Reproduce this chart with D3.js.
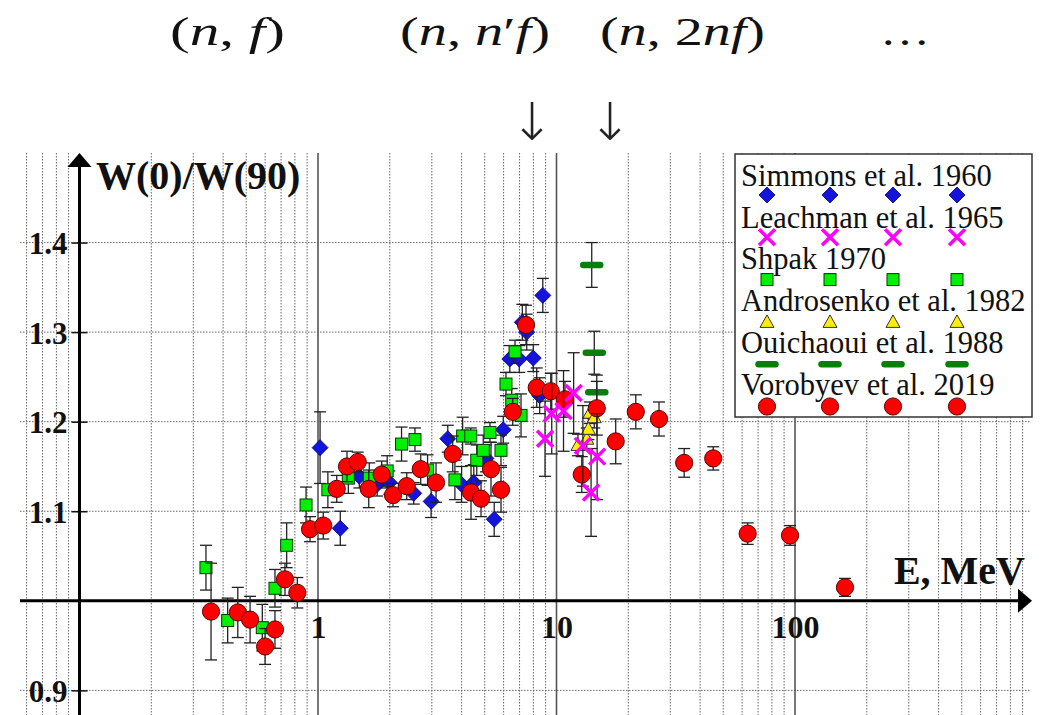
<!DOCTYPE html>
<html>
<head>
<meta charset="utf-8">
<script src="https://cdn.jsdelivr.net/npm/d3@7"></script>
<style>
  body { margin: 0; background: #fff; }
  svg { display: block; }
</style>
</head>
<body>
<svg id="chart"></svg>
<script>
// each point: [E (MeV), W(0)/W(90), error]
const simmons = [
  [1.02, 1.171, 0.040], [1.24, 1.081, 0.019], [1.49, 1.139, 0.013], [1.77, 1.130, 0.013],
  [1.99, 1.132, 0.013], [2.52, 1.120, 0.012], [2.98, 1.111, 0.018], [3.50, 1.181, 0.015],
  [4.00, 1.130, 0.020], [4.50, 1.132, 0.020], [5.06, 1.159, 0.015], [5.48, 1.091, 0.019],
  [5.98, 1.191, 0.015], [6.37, 1.270, 0.015], [6.98, 1.270, 0.015], [7.19, 1.311, 0.020],
  [7.50, 1.300, 0.020], [7.99, 1.271, 0.015], [8.50, 1.229, 0.020], [8.76, 1.341, 0.019]
];
const leachman = [
  [8.95, 1.181, 0.042], [9.55, 1.209, 0.045], [10.7, 1.212, 0.045], [11.8, 1.232, 0.045],
  [12.9, 1.173, 0.045], [13.96, 1.121, 0.049], [14.8, 1.161, 0.048]
];
const shpak = [
  [0.339, 1.037, 0.025], [0.418, 0.978, 0.025], [0.584, 0.970, 0.026], [0.660, 1.014, 0.021],
  [0.739, 1.062, 0.025], [0.891, 1.107, 0.020], [1.10, 1.124, 0.020], [1.34, 1.137, 0.017],
  [1.64, 1.137, 0.017], [1.95, 1.145, 0.017], [2.24, 1.175, 0.019], [2.55, 1.180, 0.013],
  [2.88, 1.146, 0.017], [3.75, 1.135, 0.022], [4.04, 1.184, 0.021], [4.37, 1.184, 0.009],
  [4.63, 1.157, 0.017], [4.93, 1.168, 0.017], [5.26, 1.188, 0.011], [5.85, 1.168, 0.017],
  [6.14, 1.242, 0.013], [6.49, 1.224, 0.013], [6.70, 1.278, 0.013], [7.10, 1.207, 0.024]
];
const androsenko = [
  [12.3, 1.174, 0.012], [13.4, 1.181, 0.012], [13.6, 1.192, 0.012], [13.8, 1.210, 0.012],
  [14.4, 1.205, 0.012]
];
const ouichaoui = [
  [14.05, 1.375, 0.025], [14.4, 1.277, 0.024], [14.75, 1.233, 0.019]
];
const vorobyev = [
  [0.356, 0.988, 0.054], [0.461, 0.987, 0.028], [0.519, 0.979, 0.026], [0.600, 0.949, 0.020],
  [0.660, 0.968, 0.021], [0.727, 1.024, 0.018], [0.819, 1.009, 0.017], [0.926, 1.080, 0.014],
  [1.052, 1.084, 0.015], [1.198, 1.125, 0.015], [1.323, 1.150, 0.017], [1.467, 1.155, 0.011],
  [1.632, 1.125, 0.021], [1.849, 1.141, 0.015], [2.063, 1.118, 0.013], [2.355, 1.128, 0.015],
  [2.696, 1.147, 0.017], [3.125, 1.132, 0.022], [3.671, 1.164, 0.020], [4.381, 1.121, 0.030],
  [4.825, 1.114, 0.020], [5.313, 1.147, 0.030], [5.852, 1.124, 0.025], [6.553, 1.211, 0.015],
  [7.450, 1.308, 0.022], [8.26, 1.238, 0.022], [9.46, 1.234, 0.020], [10.85, 1.225, 0.020],
  [12.76, 1.141, 0.020], [14.75, 1.215, 0.030], [17.71, 1.178, 0.025], [21.5, 1.211, 0.019],
  [26.9, 1.203, 0.019], [34.3, 1.154, 0.016], [45.4, 1.159, 0.013], [63.3, 1.075, 0.012],
  [95.3, 1.073, 0.011], [162, 1.015, 0.010]
];

const seriesNames = ["Simmons et al. 1960", "Leachman et al. 1965", "Shpak 1970",
  "Androsenko et al. 1982", "Ouichaoui et al. 1988", "Vorobyev et al. 2019"];
const seriesMarks = ["diamond", "cross", "square", "triangle", "dash", "circle"];
const seriesData = [simmons, leachman, shpak, androsenko, ouichaoui, vorobyev];
// drawing order, back to front
const drawOrder = [0, 2, 3, 4, 5, 1];

const yTickValues = [0.9, 1.1, 1.2, 1.3, 1.4];
const yGridValues = [0.9, 1.1, 1.2, 1.3, 1.4];
const xTickValues = [1, 10, 100];
const reactions = ["(n, f)", "(n, n\u2032f)", "(n, 2nf)", "\u2026"];

const width = 1044, height = 715;
const plotLeft = 20, plotRight = 1031, plotTop = 153, plotBottom = 715;

const svg = d3.select("#chart")
  .attr("width", width)
  .attr("height", height)
  .attr("viewBox", [0, 0, width, height]);

const x = d3.scaleLog().domain([0.0563, 976]).range([plotLeft, plotRight]);
const y = d3.scaleLinear().domain([0.8725, 1.5]).range([plotBottom, plotTop]);

const isDecade = d => Math.abs(Math.log10(d) - Math.round(Math.log10(d))) < 1e-6;
const serif = "'Liberation Serif', 'Times New Roman', serif";

// grid
svg.append("g")
  .selectAll("line")
  .data(x.ticks().filter(d => Math.abs(d - 0.1) > 1e-9))
  .join("line")
  .attr("x1", d => x(d)).attr("x2", d => x(d))
  .attr("y1", plotTop).attr("y2", plotBottom)
  .attr("stroke", d => isDecade(d) ? "#555" : "#666")
  .attr("stroke-width", d => isDecade(d) ? 1.6 : 1)
  .attr("stroke-dasharray", d => isDecade(d) ? null : "1.5,1.5");

svg.append("g")
  .selectAll("line")
  .data(yGridValues)
  .join("line")
  .attr("x1", plotLeft).attr("x2", plotRight)
  .attr("y1", d => y(d)).attr("y2", d => y(d))
  .attr("stroke", "#666")
  .attr("stroke-dasharray", "1.5,1.5");

// axes
const x0 = x(0.1), y0 = y(1.0);

const yAxis = svg.append("g")
  .attr("transform", `translate(${x0},0)`)
  .call(d3.axisLeft(y).tickValues(yTickValues).tickSize(8).tickPadding(4)
    .tickFormat(d3.format(".1f")));
yAxis.select(".domain").remove();
yAxis.selectAll(".tick line").attr("x1", 8).attr("stroke", "#111").attr("stroke-width", 1.5);
yAxis.selectAll(".tick text")
  .attr("font-family", serif).attr("font-weight", "bold").attr("font-size", 31)
  .attr("fill", "#111").attr("dy", "0.36em");

const xAxis = svg.append("g")
  .attr("transform", `translate(0,${y0})`)
  .call(d3.axisBottom(x).tickValues(xTickValues).tickSize(0).tickPadding(14)
    .tickFormat(d3.format("d")));
xAxis.select(".domain").remove();
xAxis.selectAll(".tick text")
  .attr("font-family", serif).attr("font-weight", "bold").attr("font-size", 32)
  .attr("fill", "#111");

svg.append("line")
  .attr("x1", x0).attr("x2", x0).attr("y1", plotBottom).attr("y2", plotTop + 10)
  .attr("stroke", "#000").attr("stroke-width", 3);
svg.append("path")
  .attr("d", `M${x0},${plotTop} L${x0 + 12},${plotTop + 14} L${x0 - 12},${plotTop + 14} Z`)
  .attr("fill", "#000");

svg.append("line")
  .attr("x1", plotLeft).attr("x2", plotRight - 10).attr("y1", y0).attr("y2", y0)
  .attr("stroke", "#000").attr("stroke-width", 3);
svg.append("path")
  .attr("d", `M${plotRight + 1},${y0} L${plotRight - 13},${y0 - 12} L${plotRight - 13},${y0 + 12} Z`)
  .attr("fill", "#000");

svg.append("text")
  .attr("x", 96).attr("y", 189)
  .attr("font-family", serif).attr("font-weight", "bold").attr("font-size", 40)
  .attr("fill", "#111")
  .text("W(0)/W(90)");

svg.append("text")
  .attr("x", 1025).attr("y", 584)
  .attr("text-anchor", "end")
  .attr("font-family", serif).attr("font-weight", "bold").attr("font-size", 40)
  .attr("fill", "#111")
  .text("E, MeV");

// markers
function drawMarker(g, type, cx, cy) {
  if (type === "diamond") {
    g.append("path")
      .attr("d", `M${cx},${cy - 8} L${cx + 8},${cy} L${cx},${cy + 8} L${cx - 8},${cy} Z`)
      .attr("fill", "#1414dc").attr("stroke", "#000070").attr("stroke-width", 0.8);
  } else if (type === "cross") {
    g.append("path")
      .attr("d", `M${cx - 8},${cy - 8} L${cx + 8},${cy + 8} M${cx - 8},${cy + 8} L${cx + 8},${cy - 8}`)
      .attr("stroke", "#ff00ff").attr("stroke-width", 3.5).attr("fill", "none");
  } else if (type === "square") {
    g.append("rect")
      .attr("x", cx - 6).attr("y", cy - 6).attr("width", 12).attr("height", 12)
      .attr("fill", "#00f000").attr("stroke", "#063806").attr("stroke-width", 1);
  } else if (type === "triangle") {
    g.append("path")
      .attr("d", `M${cx},${cy - 7} L${cx + 7},${cy + 5.5} L${cx - 7},${cy + 5.5} Z`)
      .attr("fill", "#ffee00").attr("stroke", "#333").attr("stroke-width", 1);
  } else if (type === "dash") {
    g.append("line")
      .attr("x1", cx - 8.5).attr("x2", cx + 8.5).attr("y1", cy).attr("y2", cy)
      .attr("stroke", "#0a7e0a").attr("stroke-width", 6.5).attr("stroke-linecap", "round");
  } else {
    g.append("circle")
      .attr("cx", cx).attr("cy", cy).attr("r", 8.6)
      .attr("fill", "#ff0000").attr("stroke", "#5a0000").attr("stroke-width", 1);
  }
}

drawOrder.forEach(i => {
  const g = svg.append("g");
  const data = seriesData[i];
  const bars = g.append("g").attr("stroke", "#222").attr("stroke-width", 1.3);
  data.forEach(([e, w, err]) => {
    const cx = x(e), yHi = y(w + err), yLo = y(w - err);
    bars.append("line").attr("x1", cx).attr("x2", cx).attr("y1", yHi).attr("y2", yLo);
    bars.append("line").attr("x1", cx - 6).attr("x2", cx + 6).attr("y1", yHi).attr("y2", yHi);
    bars.append("line").attr("x1", cx - 6).attr("x2", cx + 6).attr("y1", yLo).attr("y2", yLo);
  });
  data.forEach(([e, w]) => drawMarker(g, seriesMarks[i], x(e), y(w)));
});

// legend
const legend = svg.append("g");
legend.append("rect")
  .attr("x", 735).attr("y", 154).attr("width", 297).attr("height", 263)
  .attr("fill", "#fff").attr("stroke", "#333").attr("stroke-width", 1.5);
const legendMarkX = [767, 830, 893, 957];
seriesNames.forEach((name, i) => {
  legend.append("text")
    .attr("x", 741).attr("y", 186 + 41.7 * i)
    .attr("font-family", serif).attr("font-size", 30.5).attr("fill", "#111")
    .text(name);
  legendMarkX.forEach(mx => drawMarker(legend, seriesMarks[i], mx, 195 + 42.3 * i));
});

// reaction channels on top
const reactionX = [170, 400, 600, 880];
const reactionW = [115, 150, 165, 50];
reactions.forEach((r, i) => {
  const t = svg.append("text")
    .attr("x", reactionX[i]).attr("y", 45)
    .attr("font-family", serif).attr("font-size", 40).attr("fill", "#111")
    .attr("textLength", reactionW[i]).attr("lengthAdjust", "spacingAndGlyphs");
  Array.from(r).forEach(ch => {
    t.append("tspan")
      .attr("font-style", /[nf]/.test(ch) ? "italic" : "normal")
      .text(ch);
  });
});
[532, 610].forEach(ax => {
  svg.append("text")
    .attr("x", ax).attr("y", 140)
    .attr("text-anchor", "middle")
    .attr("font-family", "'DejaVu Sans', sans-serif").attr("font-size", 52)
    .attr("font-weight", 200)
    .attr("fill", "#222")
    .text("\u2193");
});
</script>
</body>
</html>
